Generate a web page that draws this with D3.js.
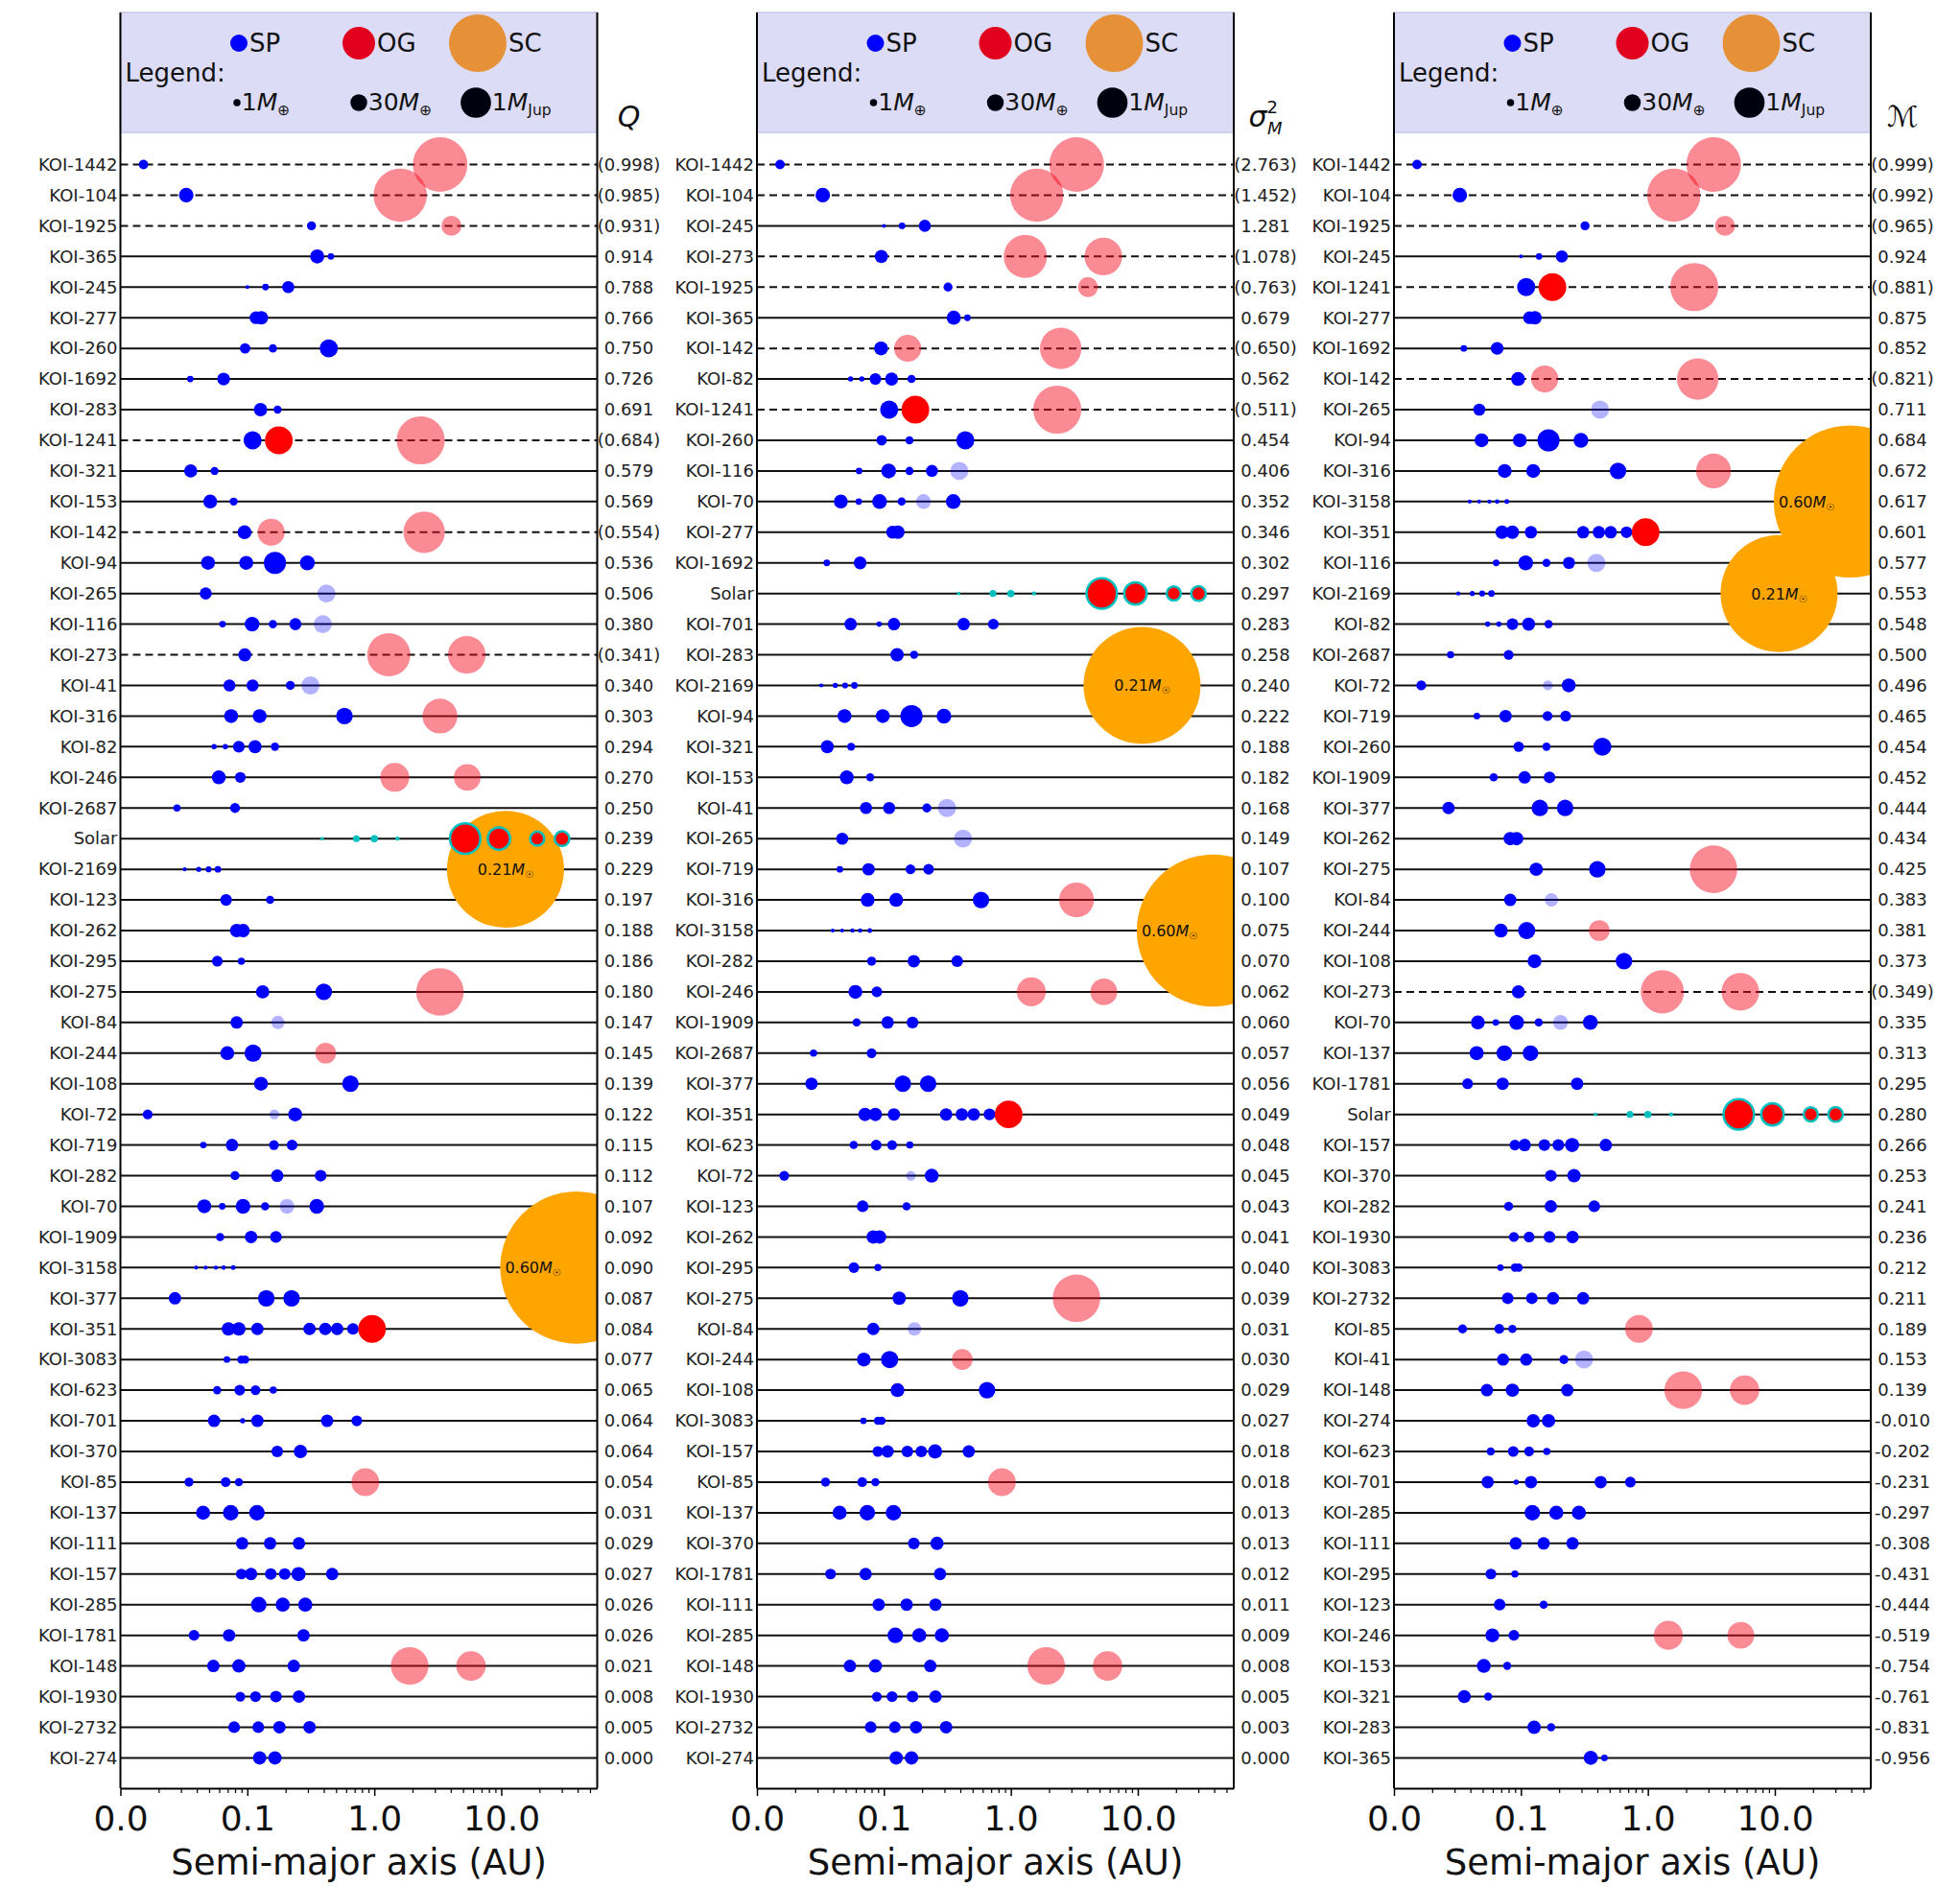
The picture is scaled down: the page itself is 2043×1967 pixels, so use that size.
<!DOCTYPE html>
<html>
<head>
<meta charset="utf-8">
<script src="https://cdn.jsdelivr.net/npm/d3@7"></script>
<style>
  body { margin: 0; background: #fff; }
  svg { display: block; }
  text { font-family: "DejaVu Sans", sans-serif; }
</style>
</head>
<body>
<svg id="chart" width="2043" height="1967"></svg>
<script>
// ---- Planetary systems: semi-major axis (AU), mass (Earth masses), kind ----
// kind: p = small planet, pn = small planet (faint), g = outer giant,
//       gn = outer giant (faint), t = Solar terrestrial, j = Solar giant
const systemNames = ["KOI-1442","KOI-104","KOI-1925","KOI-365","KOI-245","KOI-277","KOI-260","KOI-1692","KOI-283","KOI-1241","KOI-321","KOI-153","KOI-142","KOI-94","KOI-265","KOI-116","KOI-273","KOI-41","KOI-316","KOI-82","KOI-246","KOI-2687","Solar","KOI-2169","KOI-123","KOI-262","KOI-295","KOI-275","KOI-84","KOI-244","KOI-108","KOI-72","KOI-719","KOI-282","KOI-70","KOI-1909","KOI-3158","KOI-377","KOI-351","KOI-3083","KOI-623","KOI-701","KOI-370","KOI-85","KOI-137","KOI-111","KOI-157","KOI-285","KOI-1781","KOI-148","KOI-1930","KOI-2732","KOI-274"];

const planetAxis = [
  [0.0152, 3.3], [0.033, 1.6], [0.32, 4.05], [0.355, 0.455], [0.1, 0.139, 0.21],
  [0.117, 0.129], [0.096, 0.159, 0.438], [0.0355, 0.065], [0.127, 0.173], [0.11, 0.177, 2.32],
  [0.0358, 0.0552], [0.051, 0.078], [0.095, 0.154, 2.47], [0.049, 0.098, 0.165, 0.297], [0.047, 0.42],
  [0.0638, 0.109, 0.159, 0.239, 0.393], [0.0955, 1.3, 5.35], [0.0723, 0.11, 0.218, 0.314], [0.0745, 0.125, 0.582, 3.29], [0.0547, 0.067, 0.0857, 0.115, 0.165],
  [0.0596, 0.088, 1.45, 5.4], [0.0279, 0.08], [0.387, 0.723, 1.0, 1.524, 5.2, 9.58, 19.2, 30.1], [0.0321, 0.0414, 0.0495, 0.0586], [0.068, 0.151],
  [0.0824, 0.0925], [0.058, 0.0897], [0.132, 0.4, 3.29], [0.0824, 0.174], [0.0695, 0.111, 0.414],
  [0.128, 0.649], [0.0164, 0.163, 0.238], [0.045, 0.0757, 0.162, 0.225], [0.08, 0.172, 0.378], [0.0458, 0.0634, 0.0925, 0.138, 0.205, 0.352],
  [0.061, 0.107, 0.168], [0.0395, 0.0469, 0.0565, 0.065, 0.0774], [0.0269, 0.141, 0.223], [0.071, 0.0857, 0.12, 0.309, 0.411, 0.51, 0.679, 0.96], [0.069, 0.0897, 0.096],
  [0.0578, 0.087, 0.116, 0.16], [0.0547, 0.0918, 0.12, 0.425, 0.728], [0.172, 0.262], [0.0347, 0.0675, 0.0857, 0.85], [0.0448, 0.074, 0.119],
  [0.091, 0.151, 0.255], [0.0897, 0.107, 0.153, 0.197, 0.253, 0.466], [0.123, 0.19, 0.286], [0.038, 0.0718, 0.277], [0.054, 0.0857, 0.232, 1.9, 5.78],
  [0.088, 0.116, 0.168, 0.255], [0.0787, 0.122, 0.179, 0.309], [0.125, 0.165]
];

const planetMass = [
  [3, 3300], [17, 3000], [2.5, 60], [15, 0.7], [0.08, 0.7, 8],
  [10, 12], [4.5, 1.7, 40], [0.7, 10], [12, 1.6], [40, 220, 2000],
  [11, 1.6], [14, 1.6], [14, 200, 1100], [14, 14, 90, 18], [8, 40],
  [0.7, 18, 1.7, 8, 40], [11, 1300, 750], [8, 8, 2.5, 40], [14, 14, 28, 550], [0.3, 0.3, 7, 11, 1.7],
  [14, 5, 260, 190], [1, 3.5], [0.055, 0.815, 1.0, 0.107, 318, 95, 14.5, 17.1], [0.1, 0.25, 0.45, 0.7], [7, 1.7],
  [12, 12], [5, 1], [12, 28, 1900], [9, 12], [14, 33, 70],
  [14, 28], [3.5, 3.5, 14], [0.7, 9, 3.5, 5], [2.5, 9, 7], [14, 0.7, 18, 1.7, 18, 18],
  [1.7, 9, 7], [0.1, 0.1, 0.12, 0.15, 0.2], [9, 28, 28], [12, 12, 9, 9, 9, 9, 7, 220], [0.7, 1.7, 1.7],
  [1.7, 5, 3.5, 1], [9, 0.3, 9, 9, 5], [7, 12], [2.5, 3.5, 1.7, 220], [15, 22, 22],
  [9, 9, 9], [5, 9, 7, 7, 15, 9], [22, 15, 15], [5, 9, 9], [9, 12, 9, 750, 280],
  [3.5, 5, 7, 9], [7, 7, 9, 9], [12, 12]
];

const planetKind = [
  ["p","gn"], ["p","gn"], ["p","gn"], ["p","p"], ["p","p","p"],
  ["p","p"], ["p","p","p"], ["p","p"], ["p","p"], ["p","g","gn"],
  ["p","p"], ["p","p"], ["p","gn","gn"], ["p","p","p","p"], ["p","pn"],
  ["p","p","p","p","pn"], ["p","gn","gn"], ["p","p","p","pn"], ["p","p","p","gn"], ["p","p","p","p","p"],
  ["p","p","gn","gn"], ["p","p"], ["t","t","t","t","j","j","j","j"], ["p","p","p","p"], ["p","p"],
  ["p","p"], ["p","p"], ["p","p","gn"], ["p","pn"], ["p","p","gn"],
  ["p","p"], ["p","pn","p"], ["p","p","p","p"], ["p","p","p"], ["p","p","p","p","pn","p"],
  ["p","p","p"], ["p","p","p","p","p"], ["p","p","p"], ["p","p","p","p","p","p","p","g"], ["p","p","p"],
  ["p","p","p","p"], ["p","p","p","p","p"], ["p","p"], ["p","p","p","gn"], ["p","p","p"],
  ["p","p","p"], ["p","p","p","p","p","p"], ["p","p","p"], ["p","p","p"], ["p","p","p","gn","gn"],
  ["p","p","p","p"], ["p","p","p","p"], ["p","p"]
];

// ---- Stellar companions (mass in solar masses) ----
const companionSystems = ["KOI-2169", "KOI-3158"];
const companionAxis = [10.8, 39];
const companionMassSun = [0.21, 0.60];

// ---- Ranking metrics, one ordering per panel ----
const orderQ = ["KOI-1442","KOI-104","KOI-1925","KOI-365","KOI-245","KOI-277","KOI-260","KOI-1692","KOI-283","KOI-1241","KOI-321","KOI-153","KOI-142","KOI-94","KOI-265","KOI-116","KOI-273","KOI-41","KOI-316","KOI-82","KOI-246","KOI-2687","Solar","KOI-2169","KOI-123","KOI-262","KOI-295","KOI-275","KOI-84","KOI-244","KOI-108","KOI-72","KOI-719","KOI-282","KOI-70","KOI-1909","KOI-3158","KOI-377","KOI-351","KOI-3083","KOI-623","KOI-701","KOI-370","KOI-85","KOI-137","KOI-111","KOI-157","KOI-285","KOI-1781","KOI-148","KOI-1930","KOI-2732","KOI-274"];
const valueQ = [0.998,0.985,0.931,0.914,0.788,0.766,0.750,0.726,0.691,0.684,0.579,0.569,0.554,0.536,0.506,0.380,0.341,0.340,0.303,0.294,0.270,0.250,0.239,0.229,0.197,0.188,0.186,0.180,0.147,0.145,0.139,0.122,0.115,0.112,0.107,0.092,0.090,0.087,0.084,0.077,0.065,0.064,0.064,0.054,0.031,0.029,0.027,0.026,0.026,0.021,0.008,0.005,0.000];
const parenQ = ["KOI-1442","KOI-104","KOI-1925","KOI-1241","KOI-142","KOI-273"];

const orderSigma = ["KOI-1442","KOI-104","KOI-245","KOI-273","KOI-1925","KOI-365","KOI-142","KOI-82","KOI-1241","KOI-260","KOI-116","KOI-70","KOI-277","KOI-1692","Solar","KOI-701","KOI-283","KOI-2169","KOI-94","KOI-321","KOI-153","KOI-41","KOI-265","KOI-719","KOI-316","KOI-3158","KOI-282","KOI-246","KOI-1909","KOI-2687","KOI-377","KOI-351","KOI-623","KOI-72","KOI-123","KOI-262","KOI-295","KOI-275","KOI-84","KOI-244","KOI-108","KOI-3083","KOI-157","KOI-85","KOI-137","KOI-370","KOI-1781","KOI-111","KOI-285","KOI-148","KOI-1930","KOI-2732","KOI-274"];
const valueSigma = [2.763,1.452,1.281,1.078,0.763,0.679,0.650,0.562,0.511,0.454,0.406,0.352,0.346,0.302,0.297,0.283,0.258,0.240,0.222,0.188,0.182,0.168,0.149,0.107,0.100,0.075,0.070,0.062,0.060,0.057,0.056,0.049,0.048,0.045,0.043,0.041,0.040,0.039,0.031,0.030,0.029,0.027,0.018,0.018,0.013,0.013,0.012,0.011,0.009,0.008,0.005,0.003,0.000];
const parenSigma = ["KOI-1442","KOI-104","KOI-273","KOI-1925","KOI-142","KOI-1241"];

const orderM = ["KOI-1442","KOI-104","KOI-1925","KOI-245","KOI-1241","KOI-277","KOI-1692","KOI-142","KOI-265","KOI-94","KOI-316","KOI-3158","KOI-351","KOI-116","KOI-2169","KOI-82","KOI-2687","KOI-72","KOI-719","KOI-260","KOI-1909","KOI-377","KOI-262","KOI-275","KOI-84","KOI-244","KOI-108","KOI-273","KOI-70","KOI-137","KOI-1781","Solar","KOI-157","KOI-370","KOI-282","KOI-1930","KOI-3083","KOI-2732","KOI-85","KOI-41","KOI-148","KOI-274","KOI-623","KOI-701","KOI-285","KOI-111","KOI-295","KOI-123","KOI-246","KOI-153","KOI-321","KOI-283","KOI-365"];
const valueM = [0.999,0.992,0.965,0.924,0.881,0.875,0.852,0.821,0.711,0.684,0.672,0.617,0.601,0.577,0.553,0.548,0.500,0.496,0.465,0.454,0.452,0.444,0.434,0.425,0.383,0.381,0.373,0.349,0.335,0.313,0.295,0.280,0.266,0.253,0.241,0.236,0.212,0.211,0.189,0.153,0.139,-0.010,-0.202,-0.231,-0.297,-0.308,-0.431,-0.444,-0.519,-0.754,-0.761,-0.831,-0.956];
const parenM = ["KOI-1442","KOI-104","KOI-1925","KOI-1241","KOI-142","KOI-273"];

// ---- Axis ----
const xDomain = [0.01, 57];
const xTickValues = [0.01, 0.1, 1, 10];
const xTickLabels = ["0.0", "0.1", "1.0", "10.0"];
const legendMasses = [1, 30, 318];

// ---------------------------------------------------------------------------
const EARTH_PER_SUN = 332946;
const svg = d3.select("#chart");
const defs = svg.append("defs");

const panelLefts = [125.5, 789, 1453];
const panelWidth = 497;
const axTop = 13, axBottom = 1864;
const firstRowY = 171.5, lastRowY = 1832.4;
const legendBottom = 138;

const radius = d3.scalePow().exponent(0.25).domain([0, 1]).range([0, 3.75]);
const sysIndex = new Map(systemNames.map((n, i) => [n, i]));

const kindStyle = {
  p:  { fill: "#0000ff", op: 1 },
  pn: { fill: "#0000ff", op: 0.3 },
  g:  { fill: "#ff0000", op: 1 },
  gn: { fill: "#f50a1e", op: 0.48 },
  t:  { fill: "#00bfbf", op: 1 },
  j:  { fill: "#ff0000", op: 1, stroke: "#00bfbf" }
};

const minorTicks = [];
[0.01, 0.1, 1, 10].forEach(dec => {
  for (let k = 2; k <= 9; k++) {
    const v = dec * k;
    if (v < xDomain[1]) minorTicks.push(v);
  }
});

const panels = [
  { order: orderQ, values: valueQ, paren: parenQ, title: "Q" },
  { order: orderSigma, values: valueSigma, paren: parenSigma, title: "sigma" },
  { order: orderM, values: valueM, paren: parenM, title: "M" }
];

function massText(sel, prefix, sub) {
  sel.append("tspan").text(prefix);
  sel.append("tspan").attr("font-style", "italic").text("M");
  sel.append("tspan").attr("font-size", "0.62em").attr("dy", "0.3em").text(sub);
}

panels.forEach((p, pi) => {
  const left = panelLefts[pi], right = left + panelWidth;
  const x = d3.scaleLog().domain(xDomain).range([left, right]);
  const y = d3.scalePoint().domain(p.order).range([firstRowY, lastRowY]);
  const g = svg.append("g");

  const clipId = "panel-clip-" + pi;
  defs.append("clipPath").attr("id", clipId)
    .append("rect").attr("x", left).attr("y", axTop)
    .attr("width", panelWidth).attr("height", axBottom - axTop);

  // legend box
  g.append("rect").attr("x", left).attr("y", axTop)
    .attr("width", panelWidth).attr("height", legendBottom - axTop)
    .attr("fill", "#dcdcf6").attr("stroke", "#c8c8ee").attr("stroke-width", 1.5);

  const plot = g.append("g").attr("clip-path", `url(#${clipId})`);

  // system baselines
  plot.selectAll("line.row").data(p.order).join("line")
    .attr("class", "row")
    .attr("x1", left).attr("x2", right)
    .attr("y1", d => y(d)).attr("y2", d => y(d))
    .attr("stroke", "#111").attr("stroke-width", 2)
    .attr("stroke-dasharray", d => p.paren.includes(d) ? "8,5" : null);

  // stellar companions
  const comps = companionSystems.map((s, i) => ({
    name: s, a: companionAxis[i], msun: companionMassSun[i]
  }));
  plot.selectAll("circle.sc").data(comps).join("circle")
    .attr("class", "sc")
    .attr("cx", d => x(d.a)).attr("cy", d => y(d.name))
    .attr("r", d => radius(d.msun * EARTH_PER_SUN))
    .attr("fill", "#ffa500");

  comps.forEach(d => {
    const cx = x(d.a), R = radius(d.msun * EARTH_PER_SUN);
    const clipped = cx + R > right;
    const t = plot.append("text")
      .attr("x", clipped ? cx - R + 5 : cx)
      .attr("y", y(d.name) + 6)
      .attr("text-anchor", clipped ? "start" : "middle")
      .attr("font-size", 16).attr("fill", "#111");
    massText(t, d.msun.toFixed(2), "\u2609");
  });

  // planets
  const pts = p.order.flatMap(name => {
    const i = sysIndex.get(name);
    return planetAxis[i].map((a, k) => ({ name, a, m: planetMass[i][k], kind: planetKind[i][k] }));
  });
  plot.selectAll("circle.pl").data(pts).join("circle")
    .attr("class", "pl")
    .attr("cx", d => x(d.a)).attr("cy", d => y(d.name))
    .attr("r", d => radius(d.m))
    .attr("fill", d => kindStyle[d.kind].fill)
    .attr("fill-opacity", d => kindStyle[d.kind].op)
    .attr("stroke", d => kindStyle[d.kind].stroke || null)
    .attr("stroke-width", d => kindStyle[d.kind].stroke ? 2.5 : null);

  // legend contents
  const lg = g.append("g");
  lg.append("text").attr("x", left + 5).attr("y", 85)
    .attr("font-size", 26).attr("fill", "#111").text("Legend:");
  const classItems = [
    { dx: 123.5, r: 9, fill: "#0000ff", label: "SP" },
    { dx: 248.5, r: 17, fill: "#e2001f", label: "OG" },
    { dx: 372.5, r: 30, fill: "#e69138", label: "SC" }
  ];
  classItems.forEach(it => {
    lg.append("circle").attr("cx", left + it.dx).attr("cy", 45).attr("r", it.r).attr("fill", it.fill);
    lg.append("text").attr("x", left + it.dx + it.r + 2).attr("y", 54)
      .attr("font-size", 26).attr("fill", "#111").text(it.label);
  });
  const sizeX = [121.5, 248.5, 370.5];
  legendMasses.forEach((m, i) => {
    const rr = radius(m);
    lg.append("circle").attr("cx", left + sizeX[i]).attr("cy", 107).attr("r", rr).attr("fill", "#00000f");
    const t = lg.append("text").attr("x", left + sizeX[i] + rr + 1).attr("y", 115)
      .attr("font-size", 25).attr("fill", "#111");
    if (m === 318) massText(t, "1", "Jup");
    else massText(t, String(m), "\u2295");
  });

  // frame
  g.append("line").attr("x1", left).attr("x2", left).attr("y1", axTop).attr("y2", axBottom)
    .attr("stroke", "#000").attr("stroke-width", 2);
  g.append("line").attr("x1", right).attr("x2", right).attr("y1", axTop).attr("y2", axBottom)
    .attr("stroke", "#000").attr("stroke-width", 2);

  // system names
  g.selectAll("text.sys").data(p.order).join("text")
    .attr("class", "sys")
    .attr("x", left - 3).attr("y", d => y(d)).attr("dy", "0.35em")
    .attr("text-anchor", "end").attr("font-size", 18).attr("fill", "#222")
    .text(d => d);

  // metric values
  g.selectAll("text.val").data(p.order).join("text")
    .attr("class", "val")
    .attr("x", right + 33).attr("y", d => y(d)).attr("dy", "0.35em")
    .attr("text-anchor", "middle").attr("font-size", 18).attr("fill", "#222")
    .text((d, i) => {
      const s = p.values[i].toFixed(3);
      return p.paren.includes(d) ? "(" + s + ")" : s;
    });

  // metric title
  const tt = g.append("text").attr("x", right + 33).attr("y", 132)
    .attr("text-anchor", "middle").attr("fill", "#111");
  if (p.title === "Q") {
    tt.attr("font-size", 30).attr("font-family", "DejaVu Serif").attr("font-style", "italic").text("Q");
  } else if (p.title === "sigma") {
    tt.attr("font-size", 30);
    tt.append("tspan").attr("font-style", "italic").text("\u03c3");
    tt.append("tspan").attr("font-size", 18).attr("dy", -14).text("2");
    tt.append("tspan").attr("font-size", 18).attr("font-style", "italic").attr("dx", -11).attr("dy", 22).text("M");
  } else {
    tt.attr("font-size", 30).attr("font-family", "DejaVu Serif").attr("font-style", "italic").text("\u2133");
  }

  // x axis
  const ax = g.append("g").attr("transform", `translate(0,${axBottom})`)
    .call(d3.axisBottom(x).tickValues(xTickValues)
      .tickFormat((d, i) => xTickLabels[i]).tickSize(8).tickSizeOuter(0).tickPadding(10));
  ax.select(".domain").attr("stroke", "#000").attr("stroke-width", 2);
  ax.selectAll(".tick line").attr("stroke", "#000").attr("stroke-width", 1.5);
  ax.selectAll(".tick text").attr("font-size", 36).attr("fill", "#111")
    .attr("font-family", "DejaVu Sans");
  const mx = g.append("g").attr("transform", `translate(0,${axBottom})`)
    .call(d3.axisBottom(x).tickValues(minorTicks).tickFormat("").tickSize(5).tickSizeOuter(0));
  mx.select(".domain").remove();
  mx.selectAll(".tick line").attr("stroke", "#000").attr("stroke-width", 1.2);

  g.append("text").attr("x", (left + right) / 2).attr("y", 1954)
    .attr("text-anchor", "middle").attr("font-size", 37).attr("fill", "#111")
    .text("Semi-major axis (AU)");
});
</script>
</body>
</html>
